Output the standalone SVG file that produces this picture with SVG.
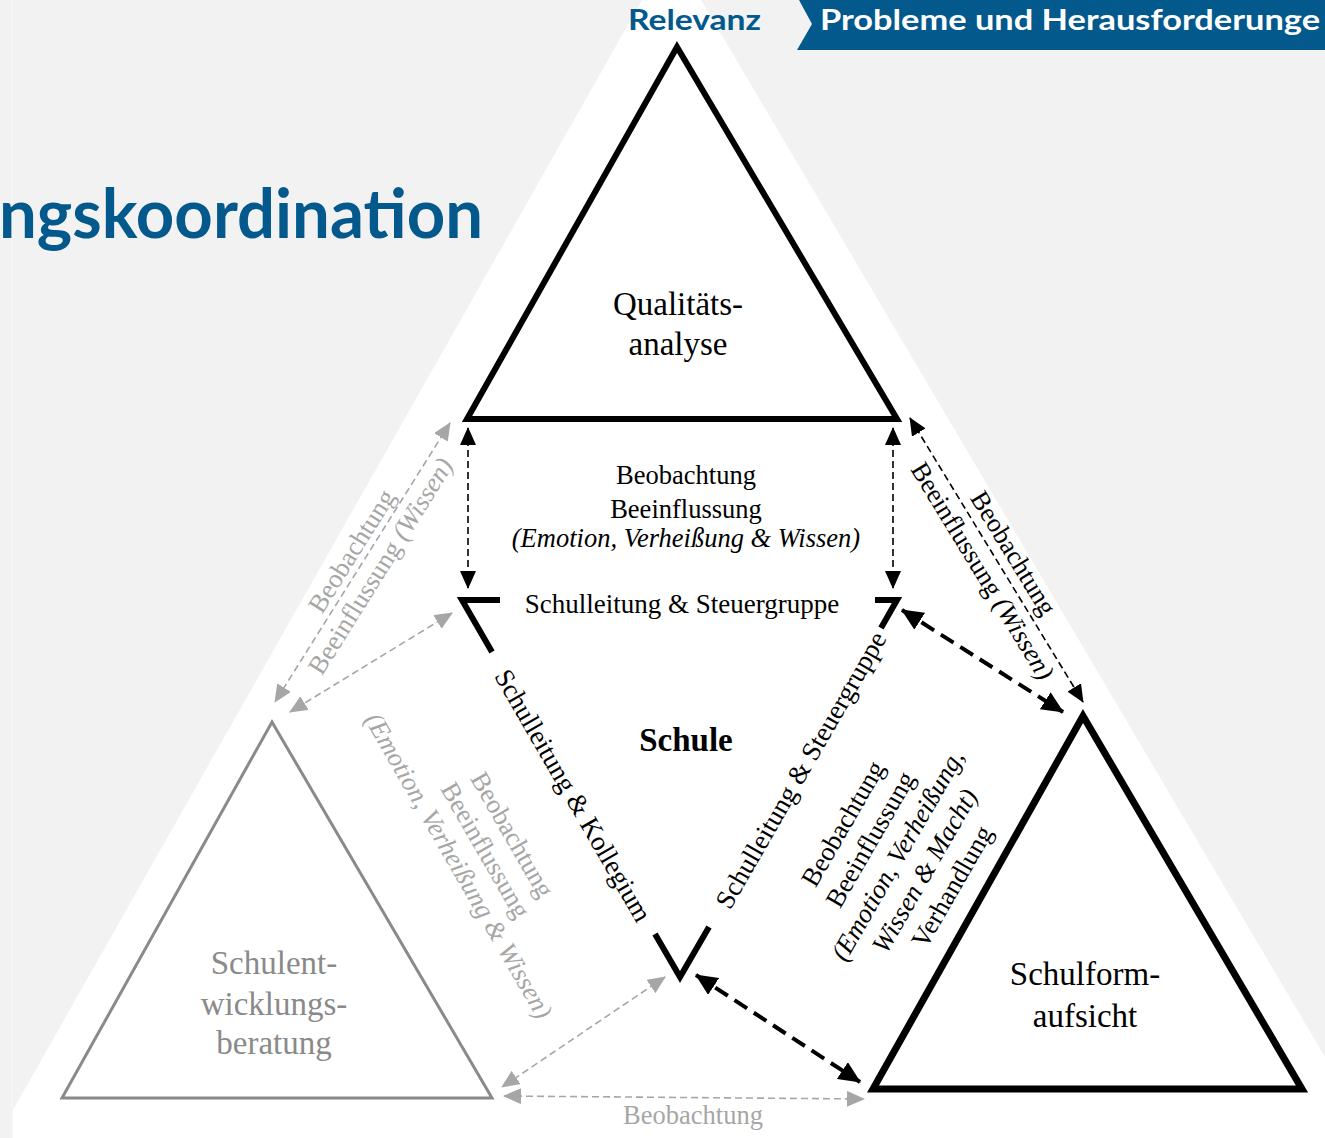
<svg xmlns="http://www.w3.org/2000/svg" width="1325" height="1138" viewBox="0 0 1325 1138">
  <style>
    .head { font-family: Lato, "Open Sans", "Liberation Sans", sans-serif; font-weight: bold; }
    .serif { font-family: "Liberation Serif", "Times New Roman", serif; font-size: 26.5px; fill: #000; }
    .big { font-size: 33px; }
    .s27 { font-size: 27px; }
    .bold { font-weight: bold; }
    .it { font-style: italic; }
    .grey { fill: #a6a6a6; }
    .greyDark { fill: #8a8a8a; }
    .mid { text-anchor: middle; }
    .tri { fill: #fff; stroke: #000; stroke-linejoin: miter; }
    .edge { fill: none; stroke: #000; stroke-width: 6; stroke-linejoin: miter; stroke-linecap: butt; }
    .thin { fill: none; stroke: #000; stroke-width: 1.6; stroke-dasharray: 7 4; }
    .thick { fill: none; stroke: #000; stroke-width: 4; stroke-dasharray: 15 8; }
    .gline { fill: none; stroke: #a6a6a6; stroke-width: 1.6; stroke-dasharray: 7 4; }
  </style>
  <defs>
    <marker id="ah" markerUnits="userSpaceOnUse" viewBox="0 0 18 16" refX="17" refY="8" markerWidth="18" markerHeight="16" orient="auto-start-reverse">
      <path d="M0,0 L18,8 L0,16 z" fill="#000"/>
    </marker>
    <marker id="ahBig" markerUnits="userSpaceOnUse" viewBox="0 0 22 20" refX="21" refY="10" markerWidth="22" markerHeight="20" orient="auto-start-reverse">
      <path d="M0,0 L22,10 L0,20 z" fill="#000"/>
    </marker>
    <marker id="ahGrey" markerUnits="userSpaceOnUse" viewBox="0 0 18 16" refX="17" refY="8" markerWidth="18" markerHeight="16" orient="auto-start-reverse">
      <path d="M0,0 L18,8 L0,16 z" fill="#a6a6a6"/>
    </marker>
  </defs>

  <!-- slide background -->
  <rect x="0" y="0" width="1325" height="1138" fill="#f2f2f2"/>
  <line x1="12" y1="0" x2="12" y2="1138" stroke="#f8f8f8" stroke-width="1"/>
  <polygon points="642,0 701,0 1325,1057 1325,1138 13,1138 13,1110" fill="#fff"/>

  <!-- header -->
  <g id="header">
    <text class="head" x="628" y="30" font-size="29" fill="#03588c" textLength="133" lengthAdjust="spacingAndGlyphs">Relevanz</text>
    <polygon points="799,0 1325,0 1325,50 797,50 812,24" fill="#03588c"/>
    <text class="head" x="820" y="30" font-size="29" fill="#fff" textLength="500" lengthAdjust="spacingAndGlyphs">Probleme und Herausforderunge</text>
    <text class="head" x="-1" y="238" font-size="68" fill="#03588c" textLength="484" lengthAdjust="spacingAndGlyphs">ngskoordination</text>
  </g>

  <!-- connectors -->
  <g id="connectors">
    <path class="thin" d="M468,428 L468,588" marker-start="url(#ah)" marker-end="url(#ah)"/>
    <path class="thin" d="M893,428 L893,588" marker-start="url(#ah)" marker-end="url(#ah)"/>
    <path class="thin" d="M910,418 L1083,702" marker-start="url(#ah)" marker-end="url(#ah)"/>
    <path class="thick" d="M902,610 L1063,712" marker-start="url(#ahBig)" marker-end="url(#ahBig)"/>
    <path class="thick" d="M696,975 L860,1082" marker-start="url(#ahBig)" marker-end="url(#ahBig)"/>
    <path class="gline" d="M450,423 L275,702" marker-start="url(#ahGrey)" marker-end="url(#ahGrey)"/>
    <path class="gline" d="M452,613 L290,712" marker-start="url(#ahGrey)" marker-end="url(#ahGrey)"/>
    <path class="gline" d="M665,977 L502,1087" marker-start="url(#ahGrey)" marker-end="url(#ahGrey)"/>
    <path class="gline" d="M504,1096 L864,1099" marker-start="url(#ahGrey)" marker-end="url(#ahGrey)"/>

    <!-- connector labels -->
    <text class="serif mid" x="686" y="484">Beobachtung</text>
    <text class="serif mid" x="686" y="518">Beeinflussung</text>
    <text class="serif mid it" x="686" y="547">(Emotion, Verheißung &amp; Wissen)</text>

    <g transform="translate(1012,554) rotate(58.6)">
      <text class="serif mid" y="7">Beobachtung</text>
    </g>
    <g transform="translate(981,572) rotate(58.6)">
      <text class="serif mid" y="7">Beeinflussung <tspan class="it">(Wissen)</tspan></text>
    </g>

    <g transform="translate(353,552) rotate(-58)">
      <text class="serif mid grey" y="7">Beobachtung</text>
    </g>
    <g transform="translate(382,567) rotate(-58)">
      <text class="serif mid grey" y="7">Beeinflussung <tspan class="it">(Wissen)</tspan></text>
    </g>

    <g transform="translate(484,851) rotate(60)">
      <text class="serif mid grey" y="-24">Beobachtung</text>
      <text class="serif mid grey" y="7">Beeinflussung</text>
      <text class="serif mid grey it" y="38">(Emotion, Verheißung &amp; Wissen)</text>
    </g>

    <g transform="translate(899,856) rotate(-60)">
      <text class="serif mid" y="-56">Beobachtung</text>
      <text class="serif mid" y="-24.5">Beeinflussung</text>
      <text class="serif mid it" y="7">(Emotion, Verheißung,</text>
      <text class="serif mid it" y="38.5">Wissen &amp; Macht)</text>
      <text class="serif mid" y="70">Verhandlung</text>
    </g>

    <text class="serif mid grey" x="693" y="1124">Beobachtung</text>
  </g>

  <!-- Qualitätsanalyse -->
  <g id="qualitaetsanalyse">
    <polygon class="tri" points="677,47 897,419 467,419" stroke-width="6"/>
    <text class="serif big mid" x="678" y="315">Qualitäts-</text>
    <text class="serif big mid" x="678" y="355">analyse</text>
  </g>

  <!-- Schulentwicklungsberatung -->
  <g id="schulentwicklungsberatung">
    <polygon points="272,722 492,1098 62,1098" fill="#fff" stroke="#8a8a8a" stroke-width="3"/>
    <text class="serif big mid greyDark" x="274" y="974">Schulent-</text>
    <text class="serif big mid greyDark" x="274" y="1015">wicklungs-</text>
    <text class="serif big mid greyDark" x="274" y="1054">beratung</text>
  </g>

  <!-- Schulformaufsicht -->
  <g id="schulformaufsicht">
    <polygon class="tri" points="1083,716 1302,1089 873,1089" stroke-width="7"/>
    <text class="serif big mid" x="1085" y="985">Schulform-</text>
    <text class="serif big mid" x="1085" y="1027">aufsicht</text>
  </g>

  <!-- Schule: open inverted triangle -->
  <g id="schule">
    <path class="edge" d="M500,600 L462,600 L492,652"/>
    <path class="edge" d="M875,600 L897,600 L881,628"/>
    <path class="edge" d="M655,934 L680,977 L709,927"/>
    <text class="serif s27 mid" x="682" y="613">Schulleitung &amp; Steuergruppe</text>
    <text class="serif big bold mid" x="686" y="751">Schule</text>
    <g transform="translate(571.5,796.5) rotate(60)">
      <text class="serif s27 mid" y="7">Schulleitung &amp; Kollegium</text>
    </g>
    <g transform="translate(802.5,771) rotate(-60)">
      <text class="serif s27 mid" y="7">Schulleitung &amp; Steuergruppe</text>
    </g>
  </g>
</svg>
